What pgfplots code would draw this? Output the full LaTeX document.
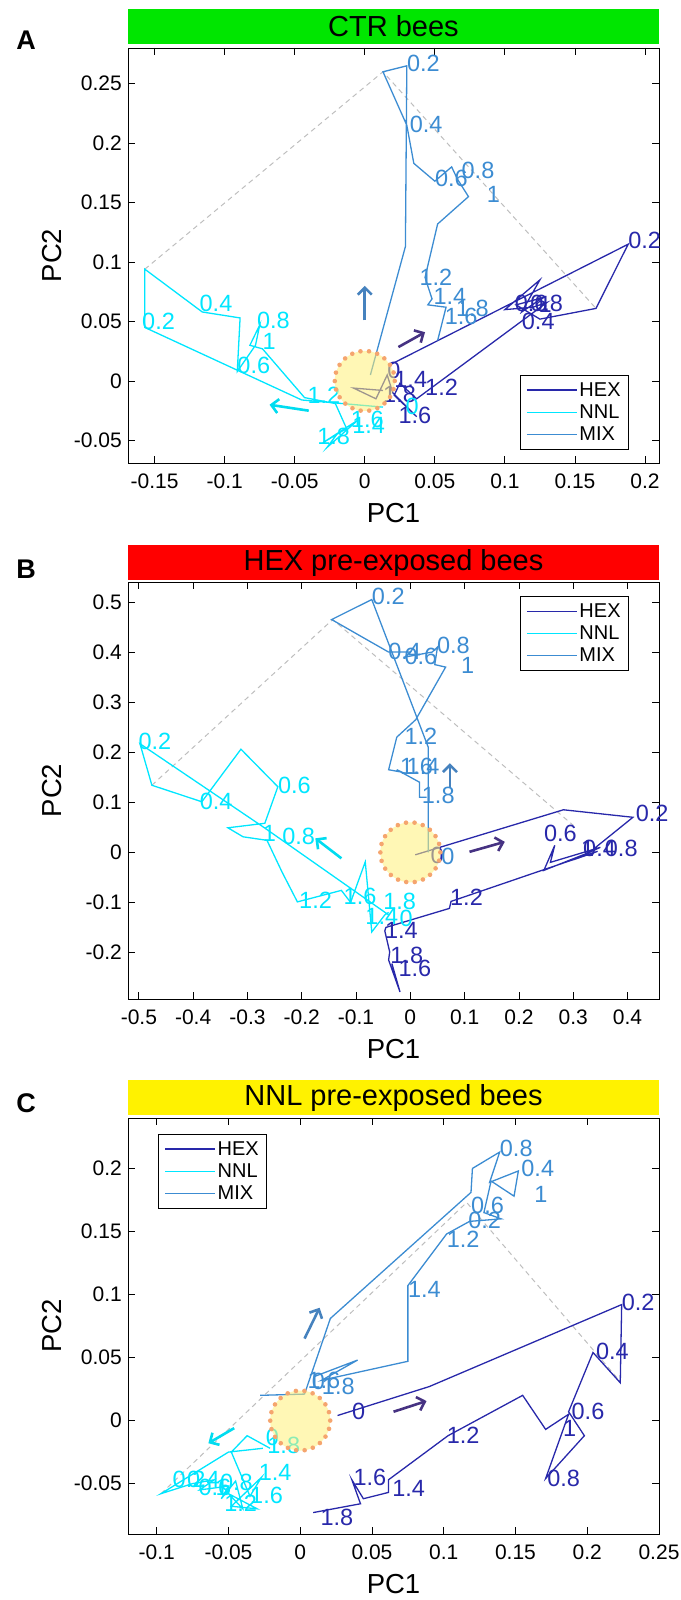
\documentclass[border=0pt]{standalone}
\usepackage{fontspec}
\setmainfont{Liberation Sans}
\usepackage{pgfplots}
\pgfplotsset{compat=1.18}
\usetikzlibrary{arrows.meta}
\definecolor{hexc}{RGB}{40,40,170}
\definecolor{nnlc}{RGB}{0,230,255}
\definecolor{mixc}{RGB}{60,140,210}
\definecolor{hexa}{RGB}{70,50,130}
\definecolor{mixa}{RGB}{70,130,190}
\definecolor{nnla}{RGB}{0,220,240}
\definecolor{dashc}{RGB}{190,190,190}
\definecolor{circf}{RGB}{255,240,120}
\definecolor{circd}{RGB}{245,165,110}
\definecolor{bargreen}{RGB}{0,230,0}
\pgfplotsset{
  panel/.style={scale only axis, width=531pt, clip=false,
    tick align=inside, major tick length=7pt,
    axis line style={line width=0.9pt},
    every tick/.style={black, line width=0.8pt},
    ticklabel style={font=\fontsize{21}{21}\selectfont},
    /pgf/number format/assume math mode=true,
    xticklabel style={anchor=north, inner sep=0pt, yshift=-11pt},
    yticklabel style={anchor=east, inner sep=0pt, xshift=-6pt},
    xlabel={PC1}, ylabel={PC2},
    label style={font=\fontsize{27.5}{27.5}\selectfont},
    xlabel style={at={(axis description cs:0.5,-0.12)}, anchor=center},
    ylabel style={at={(axis description cs:-0.143,0.5)}, anchor=center},
    legend style={font=\fontsize{20}{20}\selectfont, draw=black, line width=0.8pt,
      inner xsep=6pt, inner ysep=5pt, row sep=3pt, cells={anchor=west}},
    legend cell align=left,
    legend image code/.code={\draw[##1, line width=1.3pt] (0pt,0pt) -- (50pt,0pt);},
  },
  traj/.style={line width=1.3pt, color=#1, mark=none},
  lab/.style={forget plot, draw=none, mark=none, nodes near coords,
    point meta=explicit symbolic,
    nodes near coords style={anchor=west, inner sep=0pt, font=\fontsize{23.5}{23.5}\selectfont, text=#1}},
  arr/.style={forget plot, line width=2.6pt, color=#1, mark=none,
    -{Straight Barb[length=7pt,width=14pt]}},
  dsh/.style={forget plot, color=dashc, line width=1pt, dash pattern=on 5pt off 4pt, mark=none},
  circ/.style={forget plot, only marks, mark=*, mark size=30pt,
    mark options={fill=circf, fill opacity=0.55, draw=circd, draw opacity=1, line width=4.6pt,
      dash pattern=on 0pt off 8.57pt, line cap=round}},
}
\begin{document}
\begin{tikzpicture}
\useasboundingbox (0pt,0pt) rectangle (680pt,-1600pt);
% ---------------- Panel A ----------------
\fill[bargreen] (128pt,-9pt) rectangle (659pt,-44pt);
\node[font=\fontsize{29}{29}\selectfont] at (393.5pt,-26.5pt) {CTR bees};
\node[font=\bfseries\fontsize{27}{27}\selectfont] at (26pt,-40pt) {A};
\begin{axis}[panel, at={(128pt,-48pt)}, anchor=north west, height=415pt,
  xmin=-0.169, xmax=0.21, ymin=-0.069, ymax=0.28,
  xtick={-0.15,-0.1,-0.05,0,0.05,0.1,0.15,0.2},
  xticklabels={-0.15,-0.1,-0.05,0,0.05,0.1,0.15,0.2},
  ytick={-0.05,0,0.05,0.1,0.15,0.2,0.25},
  yticklabels={-0.05,0,0.05,0.1,0.15,0.2,0.25},
  legend style={at={(0.9435,0.212)}, anchor=north east}]
\addplot[dsh] coordinates {(-0.157,0.094) (0.013,0.260) (0.165,0.061)};
\addplot[traj=hexc] table {
x y
0.017 0.013
0.188 0.115
0.165 0.061
0.125 0.052
0.108 0.064
0.127 0.070
0.112 0.058
0.125 0.085
0.100 0.060
0.120 0.062
0.130 0.066
0.037 -0.015
0.025 -0.002
0.021 -0.012
0.037 -0.030
0.020 -0.010
0.016 0.005
0.008 -0.015
-0.008 -0.006
0.013 -0.008
};
\addlegendentry{HEX}
\addplot[traj=nnlc] table {
x y
0.013 -0.022
-0.045 -0.016
-0.157 0.045
-0.157 0.094
-0.116 0.058
-0.089 0.053
-0.091 0.008
-0.078 0.030
-0.075 0.047
-0.082 0.030
-0.073 0.027
-0.043 -0.014
-0.021 -0.019
-0.013 -0.040
-0.030 -0.052
-0.005 -0.033
-0.027 -0.056
-0.020 -0.045
};
\addlegendentry{NNL}
\addplot[traj=mixc] table {
x y
0.004 0.005
0.029 0.113
0.030 0.265
0.013 0.260
0.030 0.215
0.035 0.183
0.050 0.168
0.062 0.180
0.066 0.170
0.074 0.155
0.052 0.132
0.043 0.087
0.048 0.069
0.045 0.064
0.058 0.062
0.052 0.034
};
\addlegendentry{MIX}
\addplot[lab=hexc] table[meta=l] {
x y l
0.016 0.009 0
0.188 0.118 0.2
0.112 0.050 0.4
0.107 0.065 0.6
0.118 0.065 0.8
0.124 0.064 1
0.043 -0.005 1.2
0.021 0.001 1.4
0.024 -0.029 1.6
0.013 -0.011 1.8
};
\addplot[lab=nnlc] table[meta=l] {
x y l
0.029 -0.021 0
-0.159 0.050 0.2
-0.118 0.065 0.4
-0.091 0.013 0.6
-0.077 0.051 0.8
-0.073 0.033 1
-0.041 -0.012 1.2
-0.009 -0.037 1.4
-0.010 -0.032 1.6
-0.034 -0.047 1.8
};
\addplot[lab=mixc] table[meta=l] {
x y l
0.030 0.267 0.2
0.032 0.216 0.4
0.050 0.170 0.6
0.069 0.177 0.8
0.087 0.157 1
0.039 0.087 1.2
0.049 0.071 1.4
0.057 0.054 1.6
0.065 0.061 1.8
};
\addplot[circ] coordinates {(0,0)};
\addplot[arr=nnla] coordinates {(-0.040,-0.025) (-0.068,-0.020)};
\addplot[arr=mixa] coordinates {(0,0.051) (0,0.080)};
\addplot[arr=hexa] coordinates {(0.024,0.0285) (0.043,0.041)};
\end{axis}
% ---------------- Panel B ----------------
\fill[red] (128pt,-545pt) rectangle (659pt,-580pt);
\node[font=\fontsize{29}{29}\selectfont] at (393.5pt,-562.5pt) {HEX pre-exposed bees};
\node[font=\bfseries\fontsize{27}{27}\selectfont] at (26pt,-569pt) {B};
\begin{axis}[panel, at={(128pt,-582pt)}, anchor=north west, height=417pt,
  xmin=-0.52, xmax=0.458, ymin=-0.293, ymax=0.54,
  xtick={-0.5,-0.4,-0.3,-0.2,-0.1,0,0.1,0.2,0.3,0.4},
  xticklabels={-0.5,-0.4,-0.3,-0.2,-0.1,0,0.1,0.2,0.3,0.4},
  ytick={-0.2,-0.1,0,0.1,0.2,0.3,0.4,0.5},
  yticklabels={-0.2,-0.1,0,0.1,0.2,0.3,0.4,0.5},
  legend style={at={(0.9435,0.966)}, anchor=north east}]
\addplot[dsh] coordinates {(-0.476,0.134) (-0.143,0.465) (0.300,0.054)};
\addplot[traj=hexc] table {
x y
0.009 -0.005
0.282 0.085
0.410 0.070
0.330 0.000
0.246 -0.036
0.266 0.014
0.258 -0.020
0.350 0.010
0.300 -0.015
0.345 0.002
0.226 -0.042
0.075 -0.098
0.072 -0.112
-0.045 -0.150
-0.047 -0.157
-0.038 -0.199
-0.040 -0.215
-0.019 -0.279
-0.034 -0.222
};
\addlegendentry{HEX}
\addplot[traj=nnlc] table {
x y
-0.040 -0.125
-0.270 0.050
-0.498 0.217
-0.476 0.134
-0.384 0.101
-0.312 0.206
-0.244 0.131
-0.268 0.058
-0.336 0.049
-0.308 0.031
-0.264 0.024
-0.236 -0.040
-0.208 -0.099
-0.127 -0.076
-0.110 -0.100
-0.083 -0.019
-0.071 -0.159
-0.047 -0.125
-0.040 -0.120
};
\addlegendentry{NNL}
\addplot[traj=mixc] table {
x y
0.033 0.000
0.033 0.210
-0.071 0.505
-0.145 0.465
-0.040 0.400
0.000 0.400
-0.010 0.390
0.040 0.400
0.050 0.410
0.045 0.375
0.065 0.370
0.010 0.265
-0.025 0.230
-0.040 0.165
-0.015 0.160
-0.025 0.165
0.017 0.140
0.017 0.110
0.030 0.110
};
\addlegendentry{MIX}
\addplot[lab=hexc] table[meta=l] {
x y l
0.037 -0.006 0
0.415 0.078 0.2
0.318 0.008 0.4
0.246 0.038 0.6
0.358 0.008 0.8
0.314 0.008 1
0.073 -0.089 1.2
-0.047 -0.155 1.4
-0.022 -0.231 1.6
-0.037 -0.205 1.8
};
\addplot[lab=nnlc] table[meta=l] {
x y l
-0.020 -0.132 0
-0.501 0.221 0.2
-0.388 0.101 0.4
-0.244 0.134 0.6
-0.236 0.031 0.8
-0.272 0.038 1
-0.205 -0.096 1.2
-0.083 -0.129 1.4
-0.123 -0.089 1.6
-0.050 -0.099 1.8
};
\addplot[lab=mixc] table[meta=l] {
x y l
0.057 -0.008 0
-0.071 0.511 0.2
-0.041 0.401 0.4
-0.011 0.391 0.6
0.049 0.414 0.8
0.093 0.374 1
-0.011 0.232 1.2
-0.007 0.171 1.4
-0.019 0.171 1.6
0.021 0.114 1.8
};
\addplot[circ] coordinates {(0,0)};
\addplot[arr=nnla] coordinates {(-0.127,-0.012) (-0.175,0.028)};
\addplot[arr=mixa] coordinates {(0.073,0.128) (0.073,0.178)};
\addplot[arr=hexa] coordinates {(0.109,0.001) (0.174,0.021)};
\end{axis}
% ---------------- Panel C ----------------
\fill[yellow] (128pt,-1080pt) rectangle (659pt,-1115pt);
\node[font=\fontsize{29}{29}\selectfont] at (393.5pt,-1097.5pt) {NNL pre-exposed bees};
\node[font=\bfseries\fontsize{27}{27}\selectfont] at (26pt,-1103pt) {C};
\begin{axis}[panel, at={(128pt,-1118pt)}, anchor=north west, height=416pt,
  xmin=-0.12, xmax=0.25, ymin=-0.09, ymax=0.24,
  xtick={-0.1,-0.05,0,0.05,0.1,0.15,0.2,0.25},
  xticklabels={-0.1,-0.05,0,0.05,0.1,0.15,0.2,0.25},
  ytick={-0.05,0,0.05,0.1,0.15,0.2},
  yticklabels={-0.05,0,0.05,0.1,0.15,0.2},
  legend style={at={(0.0565,0.9615)}, anchor=north west}]
\addplot[dsh] coordinates {(-0.097,-0.058) (0.116,0.173) (0.223,0.031)};
\addplot[traj=hexc] table {
x y
0.026 0.004
0.090 0.027
0.224 0.092
0.223 0.030
0.204 0.054
0.187 0.007
0.198 -0.012
0.171 -0.046
0.187 0.005
0.171 -0.007
0.155 0.020
0.103 -0.012
0.0615 -0.047
0.0615 -0.057
0.044 -0.062
0.036 -0.047
0.042 -0.066
0.009 -0.073
};
\addlegendentry{HEX}
\addplot[traj=nnlc] table {
x y
-0.026 -0.022
-0.050 -0.025
-0.097 -0.058
-0.075 -0.050
-0.060 -0.047
-0.070 -0.055
-0.050 -0.052
-0.055 -0.062
-0.045 -0.048
-0.040 -0.070
-0.050 -0.058
-0.030 -0.070
-0.048 -0.068
-0.027 -0.045
-0.035 -0.060
-0.048 -0.025
-0.037 -0.012
-0.021 -0.022
};
\addlegendentry{NNL}
\addplot[traj=mixc] table {
x y
-0.028 0.020
0.003 0.021
0.021 0.081
0.119 0.181
0.120 0.200
0.139 0.213
0.132 0.189
0.152 0.198
0.149 0.178
0.133 0.190
0.128 0.165
0.140 0.160
0.118 0.158
0.102 0.148
0.075 0.107
0.075 0.047
0.015 0.032
0.040 0.048
0.010 0.035
};
\addlegendentry{MIX}
\addplot[lab=hexc] table[meta=l] {
x y l
0.036 0.007 0
0.224 0.094 0.2
0.206 0.055 0.4
0.189 0.007 0.6
0.172 -0.046 0.8
0.183 -0.006 1
0.102 -0.012 1.2
0.064 -0.054 1.4
0.037 -0.045 1.6
0.014 -0.077 1.8
};
\addplot[lab=nnlc] table[meta=l] {
x y l
-0.024 -0.013 0
-0.089 -0.047 0.2
-0.079 -0.047 0.4
-0.071 -0.053 0.6
-0.056 -0.049 0.8
-0.059 -0.053 1
-0.053 -0.066 1.2
-0.029 -0.041 1.4
-0.035 -0.059 1.6
-0.023 -0.020 1.8
};
\addplot[lab=mixc] table[meta=l] {
x y l
0.008 0.031 0
0.117 0.159 0.2
0.154 0.200 0.4
0.119 0.171 0.6
0.139 0.216 0.8
0.163 0.179 1
0.102 0.144 1.2
0.075 0.104 1.4
0.005 0.032 1.6
0.015 0.027 1.8
};
\addplot[circ] coordinates {(0,0)};
\addplot[arr=nnla] coordinates {(-0.046,-0.006) (-0.064,-0.018)};
\addplot[arr=mixa] coordinates {(0.003,0.065) (0.0135,0.0895)};
\addplot[arr=hexa] coordinates {(0.065,0.007) (0.088,0.0155)};
\end{axis}
\end{tikzpicture}
\end{document}
